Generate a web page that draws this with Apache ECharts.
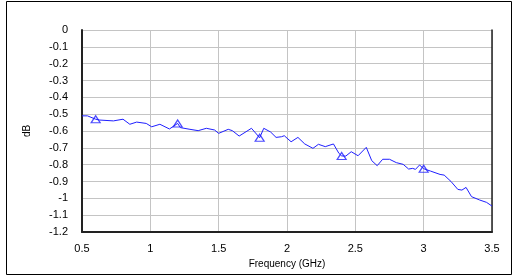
<!DOCTYPE html>
<html>
<head>
<meta charset="utf-8">
<script src="https://cdn.jsdelivr.net/npm/echarts@6/dist/echarts.min.js"></script>
<style>
  html, body { margin: 0; padding: 0; background: #fff; }
  #chart { width: 515px; height: 277px; }
</style>
</head>
<body>
<div id="chart"></div>
<script>
// measured loss trace, frequency in GHz / dB
var freq = [0.5, 0.54, 0.6, 0.63, 0.73, 0.8, 0.85, 0.9, 0.97, 1.01, 1.07, 1.14, 1.2, 1.22, 1.29,
  1.35, 1.41, 1.47, 1.5, 1.57, 1.6, 1.65, 1.74, 1.8, 1.83, 1.88, 1.92, 1.96, 1.98, 2.03, 2.08,
  2.13, 2.19, 2.23, 2.28, 2.34, 2.38, 2.4, 2.43, 2.47, 2.52, 2.58, 2.62, 2.66, 2.7, 2.75, 2.8,
  2.85, 2.89, 2.92, 2.94, 2.97, 3.0, 3.05, 3.12, 3.15, 3.2, 3.25, 3.28, 3.31, 3.35, 3.41, 3.46, 3.5];
var loss = [-0.51, -0.51, -0.53, -0.535, -0.54, -0.53, -0.56, -0.547, -0.555, -0.575, -0.56, -0.588, -0.555, -0.58, -0.59,
  -0.598, -0.584, -0.594, -0.614, -0.59, -0.598, -0.63, -0.584, -0.64, -0.584, -0.606, -0.638, -0.634, -0.628, -0.664, -0.638,
  -0.677, -0.703, -0.679, -0.693, -0.677, -0.733, -0.748, -0.749, -0.723, -0.747, -0.697, -0.776, -0.806, -0.768, -0.768, -0.788,
  -0.798, -0.826, -0.822, -0.828, -0.802, -0.824, -0.838, -0.858, -0.862, -0.9, -0.947, -0.951, -0.935, -0.99, -1.01, -1.024, -1.046];
var markFreq = [0.6, 1.2, 1.8, 2.4, 3.0];
var markLoss = [-0.53, -0.555, -0.64, -0.748, -0.824];

var chart = echarts.init(document.getElementById('chart'));

var lineData = freq.map(function (f, i) { return [f, loss[i]]; });
var markData = markFreq.map(function (f, i) { return [f, markLoss[i]]; });

var labelFont = { fontFamily: 'Liberation Sans', fontSize: 11, color: '#000' };

var option = {
    backgroundColor: '#fff',
    animation: false,
    graphic: [{
        type: 'rect',
        shape: { x: 6.5, y: 1.5, width: 505, height: 273 },
        style: { fill: 'none', stroke: '#000', lineWidth: 1 },
        silent: true
    }],
    grid: { left: 82, right: 23, top: 30, bottom: 45, containLabel: false },
    xAxis: {
        type: 'value',
        min: 0.5,
        max: 3.5,
        interval: 0.5,
        name: 'Frequency (GHz)',
        nameLocation: 'middle',
        nameGap: 27,
        nameTextStyle: { fontFamily: 'Liberation Sans', fontSize: 10, color: '#000' },
        axisLine: { onZero: false, lineStyle: { color: '#222', width: 2 } },
        axisTick: { show: false },
        axisLabel: Object.assign({ margin: 11 }, labelFont),
        splitLine: { show: true, lineStyle: { color: '#c4c4c4', width: 1 } }
    },
    yAxis: [{
        type: 'value',
        min: -1.2,
        max: 0,
        interval: 0.1,
        name: 'dB',
        nameLocation: 'middle',
        nameGap: 50,
        nameRotate: 90,
        nameTextStyle: { fontFamily: 'Liberation Sans', fontSize: 10, color: '#000' },
        axisLine: { show: true, onZero: false, lineStyle: { color: '#222', width: 2 } },
        axisTick: { show: false },
        axisLabel: Object.assign({ margin: 14 }, labelFont),
        splitLine: { show: true, lineStyle: { color: '#c4c4c4', width: 1 } }
    }, {
        type: 'value',
        position: 'right',
        min: -1.2,
        max: 0,
        interval: 0.1,
        axisLine: { show: true, onZero: false, lineStyle: { color: '#222', width: 1.5 } },
        axisTick: { show: false },
        axisLabel: { show: false },
        splitLine: { show: false }
    }],
    series: [{
        type: 'line',
        data: lineData,
        showSymbol: false,
        lineStyle: { color: '#1f1fff', width: 1 },
        z: 3
    }, {
        type: 'scatter',
        data: markData,
        symbol: 'triangle',
        symbolSize: [9, 7],
        itemStyle: { color: 'rgba(0,0,0,0)', borderColor: '#1f1fff', borderWidth: 1.2 },
        z: 4
    }]
};

chart.setOption(option);
</script>
</body>
</html>
